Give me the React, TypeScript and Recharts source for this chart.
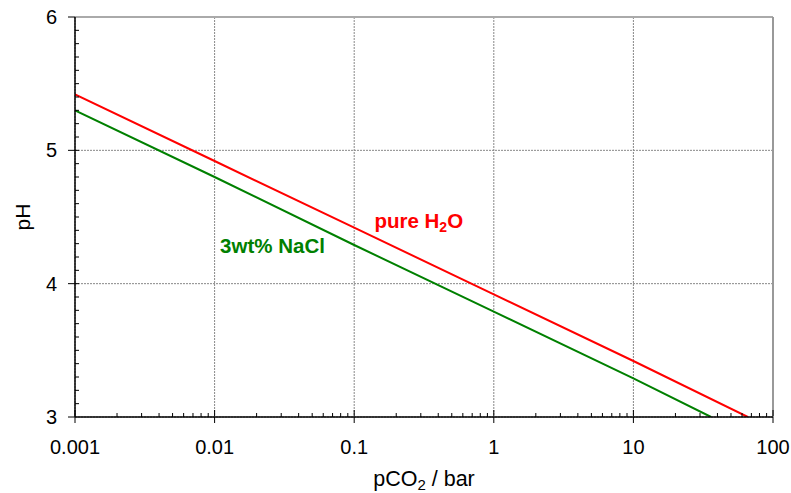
import React from 'react';
import {
  LineChart,
  Line,
  XAxis,
  YAxis,
  CartesianGrid,
  ReferenceLine,
  ReferenceDot
} from 'recharts';

// pCO2 (bar) vs pH
const pPure = [0.001, 0.01, 0.1, 1, 10, 66];
const phPure = [5.42, 4.92, 4.42, 3.92, 3.42, 3.0];
const pNaCl = [0.001, 0.01, 0.1, 1, 10, 36];
const phNaCl = [5.3, 4.8, 4.29, 3.79, 3.29, 3.0];

const majorX = [0.001, 0.01, 0.1, 1, 10, 100];
const minorMult = [2, 3, 4, 5, 6, 7, 8, 9];
const majorY = [3, 4, 5, 6];
const minorY = [3.1, 3.2, 3.3, 3.4, 3.5, 3.6, 3.7, 3.8, 3.9, 4, 4.1, 4.2, 4.3, 4.4, 4.5, 4.6, 4.7, 4.8, 4.9, 5, 5.1, 5.2, 5.3, 5.4, 5.5, 5.6, 5.7, 5.8, 5.9];

const minorX = majorX.slice(0, -1).flatMap(d => minorMult.map(m => +(d * m).toPrecision(3)));

const pureData = pPure.map((p, i) => ({ p, ph: phPure[i] }));
const naclData = pNaCl.map((p, i) => ({ p, ph: phNaCl[i] }));

const FONT = '"Liberation Sans", Arial, sans-serif';

const XTitle = (props: any) => {
  const { x, y, width } = props.viewBox;
  return (
    <text x={x + width / 2} y={y + 69} textAnchor="middle" fontSize={21.5} fontFamily={FONT} fill="#000">
      pCO<tspan fontSize={15} dy={4}>2</tspan>
      <tspan dy={-4}> / bar</tspan>
    </text>
  );
};

const YTitle = (props: any) => {
  const { x, y, height } = props.viewBox;
  const cx = x + 15;
  const cy = y + height / 2;
  return (
    <text x={cx} y={cy} transform={`rotate(-90 ${cx} ${cy})`} textAnchor="middle" fontSize={21} fontFamily={FONT} fill="#000">
      pH
    </text>
  );
};

const PureLabel = (p: any) => (
  <text x={p.cx} y={p.cy} textAnchor="middle" fontSize={20.5} fontWeight="bold" fontFamily={FONT} fill="#ff0000">
    pure H<tspan fontSize={14} dy={4}>2</tspan>
    <tspan dy={-4}>O</tspan>
  </text>
);

const NaClLabel = (p: any) => (
  <text x={p.cx} y={p.cy} textAnchor="middle" fontSize={20.5} fontWeight="bold" fontFamily={FONT} fill="#008000">
    3wt% NaCl
  </text>
);

export default function App() {
  return (
    <div style={{ position: 'absolute', left: 0, top: 0, background: '#fff' }}>
      <LineChart width={791} height={493} margin={{ top: 17, right: 18, left: 15, bottom: 36 }}>
        <CartesianGrid stroke="#888" strokeDasharray="2 1" />

        {/* main axes with labels */}
        <XAxis
          dataKey="p"
          type="number"
          scale="log"
          domain={[0.001, 100]}
          allowDataOverflow
          ticks={majorX}
          height={40}
          tickSize={6}
          tickMargin={17}
          tick={{ fontSize: 20, fill: '#000', fontFamily: FONT }}
          tickLine={{ stroke: '#000' }}
          axisLine={{ stroke: '#000', strokeWidth: 1.5 }}
          tickFormatter={(v) => String(v)}
          label={{ content: <XTitle /> }}
        />
        <YAxis
          dataKey="ph"
          type="number"
          domain={[3, 6]}
          allowDataOverflow
          ticks={majorY}
          width={60}
          tickSize={7}
          tickMargin={11}
          tick={{ fontSize: 20, fill: '#000', fontFamily: FONT }}
          tickLine={{ stroke: '#000' }}
          axisLine={{ stroke: '#000', strokeWidth: 1.5 }}
          label={{ content: <YTitle /> }}
        />

        {/* inward tick marks */}
        <XAxis
          xAxisId="up"
          dataKey="p"
          type="number"
          scale="log"
          domain={[0.001, 100]}
          allowDataOverflow
          ticks={majorX}
          mirror
          height={1}
          tickSize={6}
          axisLine={false}
          tickLine={{ stroke: '#000' }}
          tickFormatter={() => ''}
        />
        <XAxis
          xAxisId="minor"
          dataKey="p"
          type="number"
          scale="log"
          domain={[0.001, 100]}
          allowDataOverflow
          ticks={minorX}
          interval={0}
          mirror
          height={1}
          tickSize={4}
          axisLine={false}
          tickLine={{ stroke: '#000' }}
          tickFormatter={() => ''}
        />
        <YAxis
          yAxisId="minor"
          type="number"
          domain={[3, 6]}
          allowDataOverflow
          ticks={minorY}
          interval={0}
          mirror
          width={1}
          tickSize={4}
          axisLine={false}
          tickLine={{ stroke: '#000' }}
          tickFormatter={() => ''}
        />

        <ReferenceLine y={6} stroke="#aaa" strokeWidth={2} />
        <ReferenceLine x={100} stroke="#999" strokeWidth={2} />

        <Line data={pureData} dataKey="ph" stroke="#ff0000" strokeWidth={2} dot={false} isAnimationActive={false} />
        <Line data={naclData} dataKey="ph" stroke="#008000" strokeWidth={2} dot={false} isAnimationActive={false} />

        <ReferenceDot x={0.29} y={4.42} r={0} shape={PureLabel} />
        <ReferenceDot x={0.026} y={4.23} r={0} shape={NaClLabel} />
      </LineChart>
    </div>
  );
}
